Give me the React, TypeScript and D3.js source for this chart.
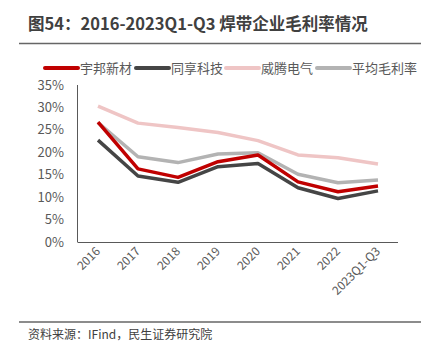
import React from "react";
import * as d3 from "d3";

const categories = ["2016", "2017", "2018", "2019", "2020", "2021", "2022", "2023Q1-Q3"];
const seriesNames = ["宇邦新材", "同享科技", "威腾电气", "平均毛利率"];
const yubang = [26.7, 16.3, 14.4, 17.9, 19.4, 13.4, 11.2, 12.5];
const tongxiang = [22.7, 14.7, 13.3, 16.8, 17.5, 12.1, 9.7, 11.4];
const weiteng = [30.3, 26.5, 25.5, 24.4, 22.6, 19.4, 18.8, 17.4];
const average = [26.6, 19.0, 17.7, 19.6, 19.9, 15.1, 13.2, 13.8];
const yTicks = [0, 5, 10, 15, 20, 25, 30, 35];
const colors = ["#C00000", "#454545", "#EFC5C5", "#B3B3B3"];

const W = 429, H = 357;
const FONT = "'Noto Sans CJK SC', 'Noto Sans', sans-serif";

export default function App() {
  const x = d3.scaleBand<string>().domain(categories).range([78, 398]);
  const y = d3.scaleLinear().domain([0, 35]).range([242, 85]);
  const line = d3
    .line<number>()
    .x((_, i) => (x(categories[i]) as number) + x.bandwidth() / 2)
    .y((d) => y(d));
  const data = [yubang, tongxiang, weiteng, average];
  const drawOrder = [2, 3, 0, 1];
  const legendX = [45, 136, 226, 317];

  return (
    <svg width={W} height={H} style={{ position: "absolute", left: 0, top: 0, background: "#fff" }}>
      <text x={28} y={29.5} fontFamily={FONT} fontSize={16.5} fontWeight="bold" fill="#404040">
        图54：2016-2023Q1-Q3 焊带企业毛利率情况
      </text>
      <line x1={19} x2={421} y1={43.5} y2={43.5} stroke="#666" strokeWidth={1.5} />

      {seriesNames.map((n, i) => (
        <g key={n}>
          <line x1={legendX[i]} x2={legendX[i] + 33} y1={68} y2={68} stroke={colors[i]} strokeWidth={4} strokeLinecap="round" />
          <text x={legendX[i] + 35} y={72.5} fontFamily={FONT} fontSize={13} fill="#595959">{n}</text>
        </g>
      ))}

      {yTicks.map((t) => (
        <text key={t} x={64} y={y(t) + 4.5} textAnchor="end" fontFamily={FONT} fontSize={13} fill="#595959">
          {t}%
        </text>
      ))}

      {drawOrder.map((i) => (
        <path key={i} d={line(data[i]) as string} fill="none" stroke={colors[i]} strokeWidth={3.5} strokeLinejoin="round" />
      ))}

      <line x1={77.5} x2={77.5} y1={85} y2={242} stroke="#595959" strokeWidth={1} />
      <line x1={77.5} x2={398} y1={242.5} y2={242.5} stroke="#595959" strokeWidth={1} />

      {categories.map((c) => {
        const cx = (x(c) as number) + x.bandwidth() / 2 + 3;
        return (
          <text
            key={c}
            transform={`translate(${cx},${252}) rotate(-45)`}
            textAnchor="end"
            fontFamily={FONT}
            fontSize={12}
            fill="#595959"
          >
            {c}
          </text>
        );
      })}

      <line x1={19} x2={421} y1={322} y2={322} stroke="#666" strokeWidth={1.5} />
      <text x={28} y={339} fontFamily={FONT} fontSize={12} fill="#404040">
        资料来源：IFind，民生证券研究院
      </text>
    </svg>
  );
}
